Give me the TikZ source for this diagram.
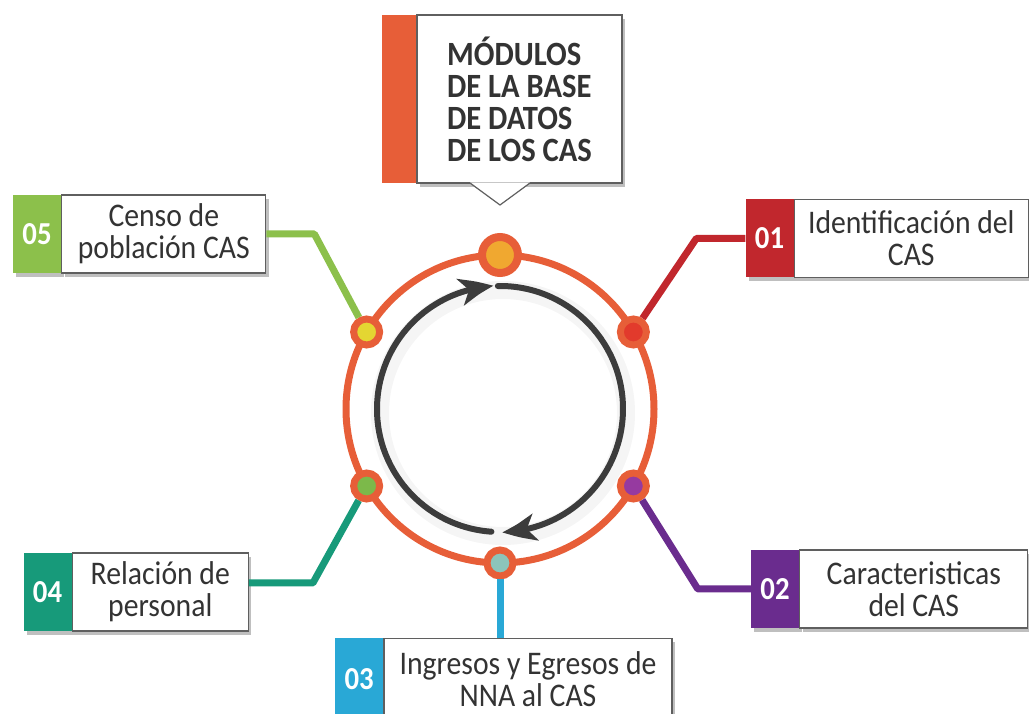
\documentclass[tikz,border=0pt]{standalone}
\usepackage{fontspec}
\setmainfont[FakeStretch=0.9]{Carlito}
\usetikzlibrary{arrows.meta, bending, positioning, calc, shadows}
\definecolor{ringorange}{RGB}{231,94,56}
\definecolor{redcas}{RGB}{193,39,45}
\definecolor{purplecas}{RGB}{106,44,142}
\definecolor{cyancas}{RGB}{41,168,214}
\definecolor{tealcas}{RGB}{23,154,122}
\definecolor{greencas}{RGB}{140,192,75}
\definecolor{darkarrow}{RGB}{60,60,60}
\definecolor{boxgray}{RGB}{95,95,95}
\definecolor{txtgray}{RGB}{51,51,51}
\definecolor{dottop}{RGB}{240,168,48}
\definecolor{dotred}{RGB}{226,58,44}
\definecolor{dotyellow}{RGB}{228,214,50}
\definecolor{dotgreen}{RGB}{124,185,74}
\definecolor{dotpurple}{RGB}{150,58,160}
\definecolor{dotcyan}{RGB}{140,196,186}
\tikzset{
  cardshadow/.style={drop shadow={shadow xshift=3pt, shadow yshift=-4pt, opacity=0.25, fill=black}},
  numbox/.style={minimum width=48, minimum height=78, inner sep=0, text=white,
    font=\fontsize{32}{32}\selectfont\bfseries, cardshadow},
  txtbox/.style={draw=boxgray, line width=1.2, fill=white, minimum height=78, inner sep=2,
    align=center, text=txtgray, font=\fontsize{33}{32}\selectfont, cardshadow},
  dot/.style={circle, draw=ringorange, line width=7, minimum size=26, inner sep=0},
  conn/.style={line width=7, line join=round},
  arrline/.style={draw=darkarrow, line width=6, line cap=round,
    -{Stealth[length=34pt, width=27pt, inset=9pt, bend]}},
}
\begin{document}
\begin{tikzpicture}[x=1pt, y=1pt]
        \useasboundingbox (0,0) rectangle (1029,713);
        \coordinate[] (c) at (500,304);
        % title
        \node[fill=white, draw=boxgray, line width=1.2, minimum width=205, minimum height=168,
          align=left, text=txtgray, font=\fontsize{34}{32}\selectfont\bfseries, cardshadow]
          (ttl) at (519.5,614) {MÓDULOS\\DE LA BASE\\DE DATOS\\DE LOS CAS};
        \node[fill=ringorange, minimum width=34, minimum height=168, inner sep=0, left=0pt of ttl] (ttlbar) {};
        \coordinate[] (tip) at (500,508);
        \fill[white] ($(tip)+(-30,22.6)$) -- (tip) -- ($(tip)+(30,22.6)$) -- cycle;
        \draw[boxgray, line width=1.2] ($(tip)+(-30,22)$) -- (tip) -- ($(tip)+(30,22)$);
        % ring and arrows
        \draw[black, opacity=0.04, line width=18] ($(c)+(3,-4)$) circle (123);
        \draw[ringorange, line width=7] (c) circle (154);
        \draw[arrline] ($(c)+(91:123)$) arc (91:-89:123);
        \draw[arrline] ($(c)+(-94:123)$) arc (-94:-267:123);
        % cards
        \node[numbox, fill=redcas] (n1) at (769.5,474.5) {01};
        \node[txtbox, minimum width=234, right=0pt of n1] (t1) {Identificación del\\CAS};
        \node[numbox, fill=purplecas] (n2) at (775,124) {02};
        \node[txtbox, minimum width=228, right=0pt of n2] (t2) {Caracteristicas\\del CAS};
        \node[numbox, fill=cyancas, minimum height=82, anchor=north west] (n3) at (335,75) {03};
        \node[txtbox, minimum width=288, minimum height=82, right=0pt of n3] (t3) {Ingresos y Egresos de\\NNA al CAS};
        \node[numbox, fill=tealcas] (n4) at (47.5,121) {04};
        \node[txtbox, minimum width=176, right=0pt of n4] (t4) {Relación de\\personal};
        \node[numbox, fill=greencas] (n5) at (37,479) {05};
        \node[txtbox, minimum width=204, right=0pt of n5] (t5) {Censo de\\población CAS};
        % dots
        \node[dot, minimum size=36, line width=8, fill=dottop] (d0) at ($(c)+(90:154)$) {};
        \node[dot, fill=dotred] (d1) at ($(c)+(30:154)$) {};
        \node[dot, fill=dotpurple] (d2) at ($(c)+(-30:154)$) {};
        \node[dot, fill=dotcyan] (d3) at ($(c)+(-90:154)$) {};
        \node[dot, fill=dotgreen] (d4) at ($(c)+(210:154)$) {};
        \node[dot, fill=dotyellow] (d5) at ($(c)+(150:154)$) {};
        % connectors
        \draw[conn, redcas] (n1.west) -- ++(-49,0) -- (d1);
        \draw[conn, purplecas] (n2.west) -- ++(-53,0) -- (d2);
        \draw[conn, cyancas] (d3) -- (d3 |- t3.north);
        \draw[conn, tealcas] ([yshift=9]t4.east) -- ++(64,0) -- (d4);
        \draw[conn, greencas] (t5.east) -- ++(48,0) -- (d5);
\end{tikzpicture}
\end{document}
